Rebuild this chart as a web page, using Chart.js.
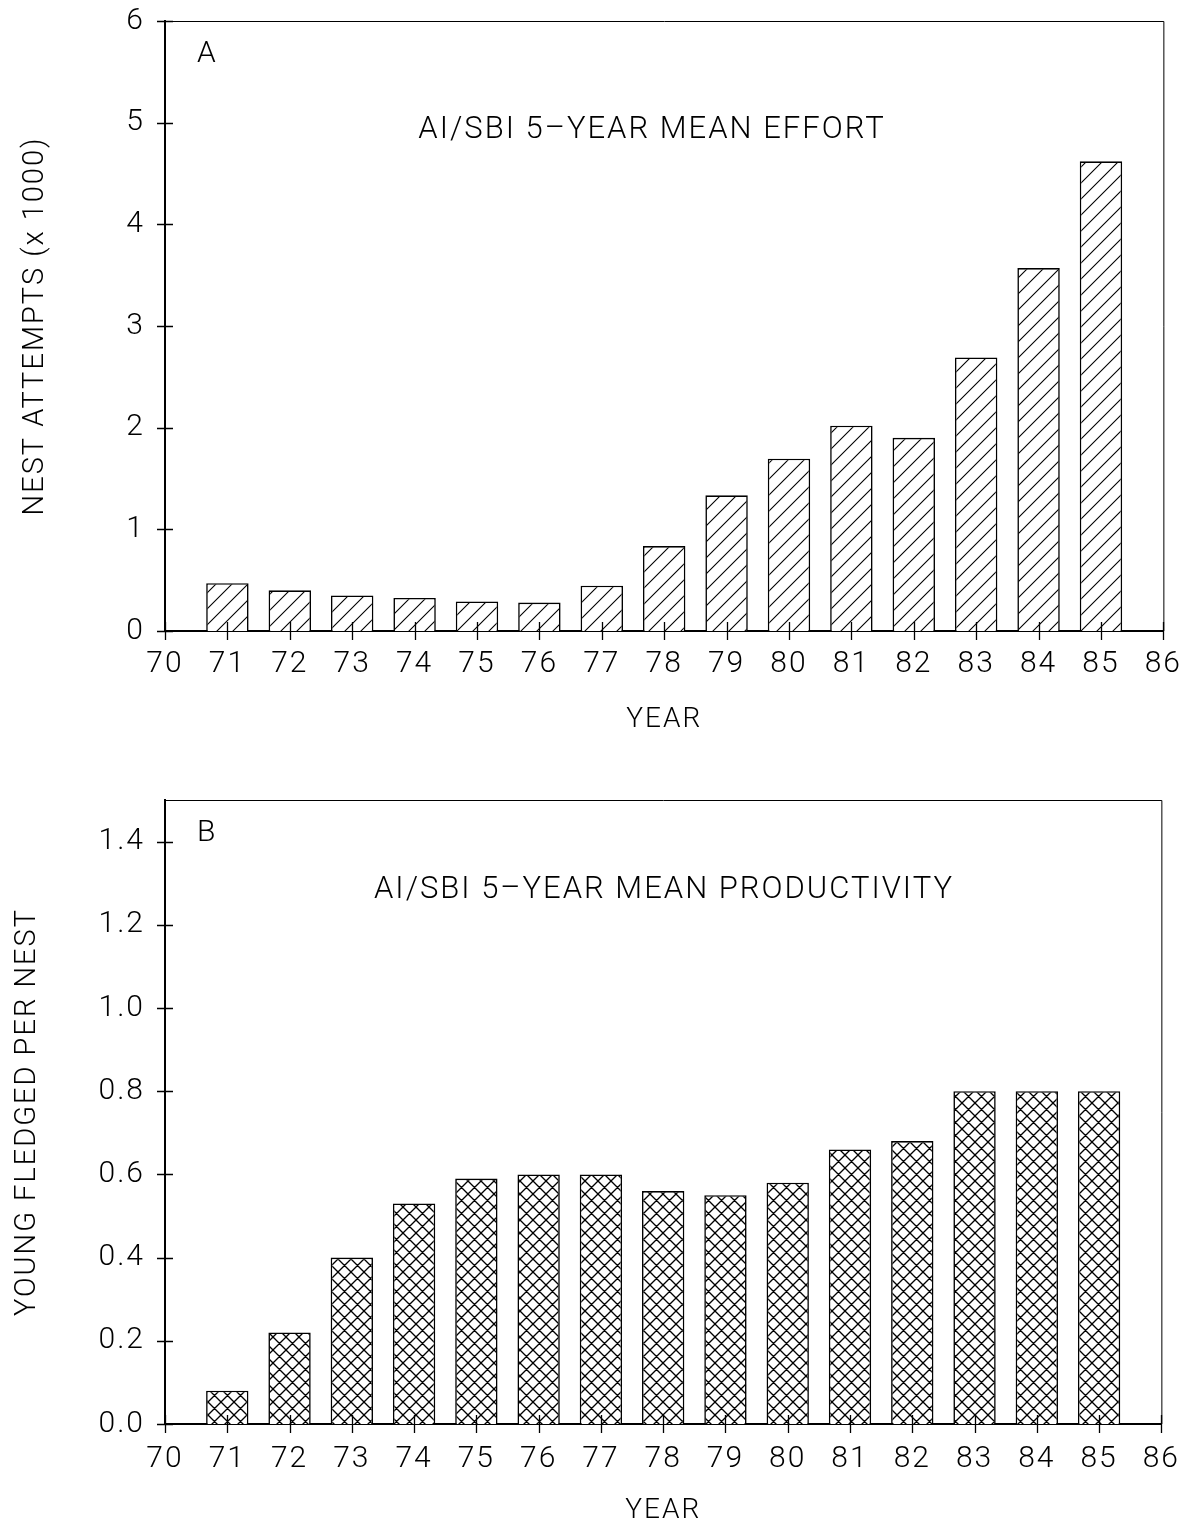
<!DOCTYPE html>
<html>
<head>
<meta charset="utf-8">
<script src="https://cdn.jsdelivr.net/npm/chart.js@4.4.1/dist/chart.umd.min.js"></script>
<style>
  html, body { margin: 0; padding: 0; background: #fff; }
  .panel { width: 1195px; height: 765px; }
</style>
</head>
<body>
<div class="panel"><canvas id="effortChart" width="1195" height="765"></canvas></div>
<div class="panel"><canvas id="productivityChart" width="1195" height="765"></canvas></div>
<script>
// years on the x axis (19xx)
var years = [71, 72, 73, 74, 75, 76, 77, 78, 79, 80, 81, 82, 83, 84, 85];
var yearMin = 70;
var yearMax = 86;

// panel A: nest attempts (x 1000)
var effortValues = [0.47, 0.40, 0.35, 0.325, 0.29, 0.28, 0.445, 0.835, 1.335, 1.695, 2.02, 1.90, 2.69, 3.57, 4.62];
var effortTicks = [0, 1, 2, 3, 4, 5, 6];

// panel B: young fledged per nest
var productivityValues = [0.08, 0.22, 0.40, 0.53, 0.59, 0.60, 0.60, 0.56, 0.55, 0.58, 0.66, 0.68, 0.80, 0.80, 0.80];
var productivityTicks = [0.0, 0.2, 0.4, 0.6, 0.8, 1.0, 1.2, 1.4];

var FONT = "Roboto, 'Liberation Sans', Arial, sans-serif";

Chart.defaults.font.family = FONT;
Chart.defaults.font.weight = '300';
Chart.defaults.color = '#000';

function makePattern(size, cross, lw)
{
    var c = document.createElement('canvas');
    c.width = size;
    c.height = size;
    var g = c.getContext('2d');
    g.fillStyle = '#fff';
    g.fillRect(0, 0, size, size);
    g.strokeStyle = '#000';
    g.lineWidth = lw;
    g.beginPath();
    // "/" lines
    g.moveTo(-1, size + 1); g.lineTo(size + 1, -1);
    g.moveTo(-1, 1); g.lineTo(1, -1);
    g.moveTo(size - 1, size + 1); g.lineTo(size + 1, size - 1);
    if (cross)
    {
        // "\" lines
        g.moveTo(-1, -1); g.lineTo(size + 1, size + 1);
        g.moveTo(size - 1, -1); g.lineTo(size + 1, 1);
        g.moveTo(-1, size - 1); g.lineTo(1, size + 1);
    }
    g.stroke();
    return g.createPattern(c, 'repeat');
}

function toPoints(values)
{
    return years.map(function (yr, i) { return { x: yr, y: values[i] }; });
}

var frameAndText = {
    id: 'frameAndText',
    beforeDraw: function (chart)
    {
        // the original lettering is widely spaced
        chart.ctx.letterSpacing = '2px';
    },
    afterDatasetsDraw: function (chart, args, opts)
    {
        var ctx = chart.ctx;
        var a = chart.chartArea;
        var xs = chart.scales.x;
        var ys = chart.scales.y;

        ctx.save();
        ctx.strokeStyle = '#000';

        // thin top and right border
        ctx.lineWidth = 1;
        ctx.beginPath();
        ctx.moveTo(a.left, a.top + 0.5);
        ctx.lineTo(a.right + 0.5, a.top + 0.5);
        ctx.lineTo(a.right + 0.5, a.bottom);
        ctx.stroke();

        // ticks that cross the axes
        ctx.lineWidth = 1.3;
        ctx.beginPath();
        ys.ticks.forEach(function (t)
        {
            var py = Math.round(ys.getPixelForValue(t.value)) + 0.5;
            ctx.moveTo(a.left - 8, py);
            ctx.lineTo(a.left + 8, py);
        });
        xs.ticks.forEach(function (t)
        {
            var px = Math.round(xs.getPixelForValue(t.value)) + 0.5;
            ctx.moveTo(px, a.bottom - 9);
            ctx.lineTo(px, a.bottom + 9);
        });
        ctx.stroke();

        // panel letter and title inside the plot
        ctx.fillStyle = '#000';
        ctx.font = '300 30px ' + FONT;
        ctx.letterSpacing = '1px';
        ctx.textBaseline = 'alphabetic';
        ctx.textAlign = 'left';
        ctx.fillText(opts.letter, a.left + 32, a.top + opts.letterDy);
        ctx.font = '300 31px ' + FONT;
        ctx.letterSpacing = '2px';
        ctx.textAlign = 'center';
        ctx.fillText(opts.title, a.left + opts.titleDx, a.top + opts.titleDy);
        ctx.restore();
    }
};

function buildChart(id, values, pattern, yCfg, panel, layoutCfg)
{
    var ctx = document.getElementById(id).getContext('2d');
    return new Chart(ctx, {
        type: 'bar',
        data: {
            datasets: [{
                data: toPoints(values),
                backgroundColor: pattern,
                borderColor: '#000',
                borderWidth: 1.6,
                barPercentage: 0.68,
                categoryPercentage: 1.0
            }]
        },
        options: {
            responsive: false,
            animation: false,
            layout: { padding: layoutCfg.padding },
            plugins: {
                legend: { display: false },
                tooltip: { enabled: false },
                frameAndText: panel
            },
            scales: {
                x: {
                    type: 'linear',
                    min: yearMin,
                    max: yearMax,
                    offset: false,
                    grid: { display: false, drawTicks: false, offset: false },
                    border: { display: true, color: '#000', width: 2 },
                    ticks: {
                        stepSize: 1,
                        autoSkip: false,
                        maxRotation: 0,
                        padding: layoutCfg.xTickPad,
                        font: { size: 30 },
                        callback: function (v) { return String(v); }
                    },
                    title: {
                        display: true,
                        text: 'YEAR',
                        font: { size: 28 },
                        padding: { top: 0, bottom: layoutCfg.xTitlePad }
                    },
                    afterFit: function (s) { s.height = layoutCfg.xHeight; }
                },
                y: {
                    min: yCfg.ticks[0],
                    max: yCfg.max,
                    grid: { display: false, drawTicks: true, tickLength: 20 },
                    border: { display: true, color: '#000', width: 2 },
                    afterBuildTicks: function (s)
                    {
                        s.ticks = yCfg.ticks.map(function (v) { return { value: v }; });
                    },
                    ticks: {
                        padding: 0,
                        font: { size: 30 },
                        callback: function (v) { return v.toFixed(yCfg.decimals); }
                    },
                    title: {
                        display: true,
                        text: yCfg.title,
                        font: { size: 29 },
                        padding: { top: yCfg.titlePad, bottom: 0 }
                    },
                    afterFit: function (s) { s.width = 165; }
                }
            }
        },
        plugins: [frameAndText]
    });
}

buildChart('effortChart', effortValues, makePattern(16, false, 1.1),
    { ticks: effortTicks, max: 6, decimals: 0, title: 'NEST ATTEMPTS (x 1000)', titlePad: 18 },
    { letter: 'A', letterDy: 41, title: 'AI/SBI 5\u2013YEAR MEAN EFFORT', titleDx: 487, titleDy: 117 },
    { padding: { left: 0, right: 30, top: 21, bottom: 0 }, xHeight: 134, xTickPad: 15, xTitlePad: 28 });

buildChart('productivityChart', productivityValues, makePattern(13, true, 1.35),
    { ticks: productivityTicks, max: 1.5, decimals: 1, title: 'YOUNG FLEDGED PER NEST', titlePad: 10 },
    { letter: 'B', letterDy: 41, title: 'AI/SBI 5\u2013YEAR MEAN PRODUCTIVITY', titleDx: 499, titleDy: 98 },
    { padding: { left: 0, right: 30, top: 35, bottom: 0 }, xHeight: 106, xTickPad: 17, xTitlePad: 2 });
</script>
</body>
</html>
